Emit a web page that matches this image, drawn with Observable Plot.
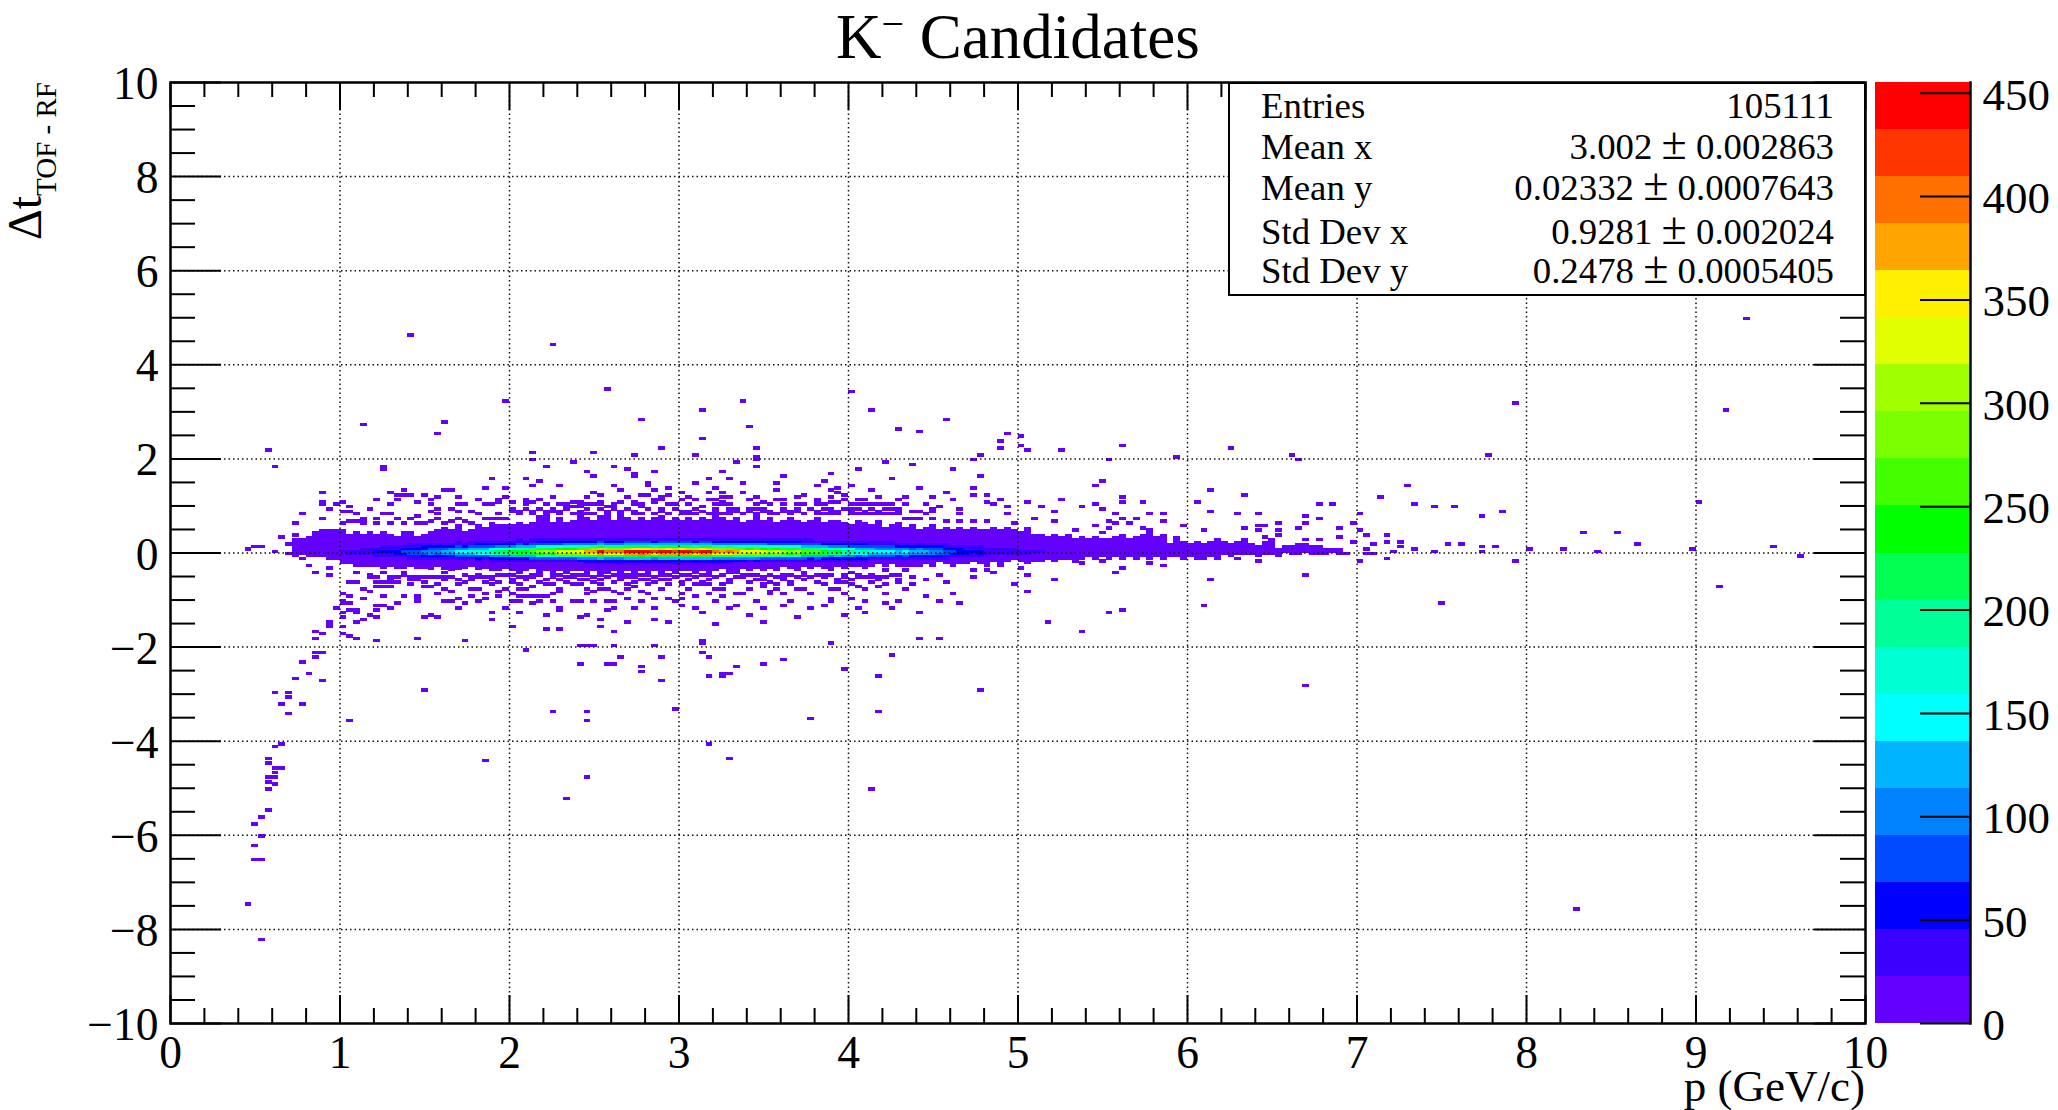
<!DOCTYPE html>
<html>
<head>
<meta charset="utf-8">
<script src="https://cdn.jsdelivr.net/npm/d3@7"></script>
<script src="https://cdn.jsdelivr.net/npm/@observablehq/plot@0.6"></script>
<style>
html,body{margin:0;padding:0;background:#fff;}
#page{position:relative;width:2058px;height:1110px;overflow:hidden;font-family:"Liberation Serif",serif;color:#000;}
#page svg{position:absolute;left:0;top:0;}
#title{position:absolute;left:836px;top:1px;font-size:63px;line-height:72px;white-space:nowrap;}
#title sup{font-size:40px;line-height:0;vertical-align:21px;}
#ylab{position:absolute;left:0;top:82px;width:162px;height:50px;white-space:nowrap;font-size:48px;line-height:50px;text-align:right;transform-origin:0 0;transform:translate(0,162px) rotate(-90deg);}
#ylab span{font-size:29px;position:relative;top:15px;}
#xlab{position:absolute;right:193px;top:1066px;font-size:45px;line-height:40px;white-space:nowrap;}
#stats{position:absolute;left:1228px;top:82px;width:634px;height:210px;background:#fff;border:2.5px solid #000;font-size:36.8px;}
#stats div{position:absolute;left:0;right:0;height:40px;line-height:40px;}
#stats .k{position:absolute;left:31px;}
#stats .v{position:absolute;right:30px;}
#stats .pm{font-size:46px;line-height:0;}
</style>
</head>
<body>
<div id="page"></div>
<script>
// Histogram binning
const pBin = 0.04, dtBin = 0.05;

// Palette levels and band colours
const levels = [22.76,45.52,68.28,91.04,113.8,136.56,159.32,182.08,204.84,227.6,250.36,273.12,295.88,318.64,341.4,364.16,386.92,409.68,432.44];
const zTop = 455.2;
const bandColors = ["#6400ff","#3c00ff","#0000ff","#004bff","#0082ff","#00b4ff","#00ffff","#00ffd2","#00ff96","#00ff50","#00ff00","#44ff00","#7aff00","#a0ff00","#e1ff00","#fff000","#ffa500","#ff7000","#ff3600","#ff0000"];
const zTicks = [0,50,100,150,200,250,300,350,400,450];

// Axis ticks
const xMajor = [0,1,2,3,4,5,6,7,8,9,10];
const xMinor = [0.2,0.4,0.6,0.8,1.2,1.4,1.6,1.8,2.2,2.4,2.6,2.8,3.2,3.4,3.6,3.8,4.2,4.4,4.6,4.8,5.2,5.4,5.6,5.8,6.2,6.4,6.6,6.8,7.2,7.4,7.6,7.8,8.2,8.4,8.6,8.8,9.2,9.4,9.6,9.8];
const yMajor = [-10,-8,-6,-4,-2,0,2,4,6,8,10];
const yMinor = [-9.5,-9,-8.5,-7.5,-7,-6.5,-5.5,-5,-4.5,-3.5,-3,-2.5,-1.5,-1,-0.5,0.5,1,1.5,2.5,3,3.5,4.5,5,5.5,6.5,7,7.5,8.5,9,9.5];
const xGrid = [1,2,3,4,5,6,7,8,9];
const yGrid = [-8,-6,-4,-2,0,2,4,6,8];

// Filled band: upper and lower edge of the solid region, one value per p bin from p = 0.72
const envStart = 0.72;
const envTop = [
.30,.30,.35,.45,.50,.50,.50,.50,.40,.45,
.40,.45,.40,.45,.40,.35,.45,.45,.35,.40,
.45,.50,.55,.50,.60,.45,.50,.60,.55,.65,
.60,.60,.60,.65,.60,.65,.80,.80,.65,.75,
.65,.70,.85,.75,.70,.80,.90,.70,.80,.75,
.70,.75,.70,.75,.80,.70,.75,.70,.75,.70,
.75,.70,.80,.75,.70,.75,.65,.70,.80,.70,
.75,.65,.70,.75,.70,.65,.70,.75,.65,.70,
.70,.65,.60,.70,.65,.60,.70,.55,.60,.65,
.55,.60,.50,.55,.60,.50,.55,.50,.55,.50,
.55,.50,.50,.55,.50,.55,.50,.45,.55,.40,
.40,.35,.40,.35,.40,.30,.35,.30,.35,.30,
.30,.35,.40,.30,.35,.40,.45,.35,.40,.20,
.35,.25,.20,.25,.20,.25,.30,.25,.20,.25,
.30,.20,.15,.25,.30,.10,.15,.15,.20,.20,
.15,.15,.10,.10,.10];
const envBottom = [
-.10,-.05,-.10,-.10,-.10,-.15,-.15,-.20,-.25,-.30,
-.30,-.30,-.30,-.35,-.30,-.35,-.35,-.30,-.35,-.35,
-.35,-.30,-.35,-.40,-.35,-.35,-.30,-.35,-.35,-.40,
-.40,-.35,-.40,-.45,-.40,-.35,-.45,-.40,-.45,-.40,
-.45,-.40,-.40,-.45,-.40,-.50,-.45,-.40,-.45,-.40,
-.50,-.40,-.45,-.40,-.45,-.40,-.45,-.40,-.40,-.45,
-.40,-.45,-.40,-.35,-.40,-.45,-.35,-.40,-.35,-.40,
-.35,-.40,-.30,-.35,-.40,-.30,-.35,-.30,-.35,-.40,
-.30,-.35,-.30,-.30,-.35,-.30,-.25,-.30,-.25,-.30,
-.25,-.30,-.30,-.25,-.30,-.20,-.25,-.30,-.25,-.25,
-.20,-.25,-.25,-.20,-.25,-.20,-.15,-.20,-.25,-.20,
-.20,-.15,-.20,-.15,-.15,-.20,-.15,-.10,-.15,-.10,
-.15,-.10,-.15,-.10,-.15,-.10,-.15,-.10,-.15,-.10,
-.10,-.15,-.10,-.10,-.15,-.10,-.10,-.05,-.10,-.05,
-.05,-.05,-.10,-.05,-.05,-.10,0,-.05,-.05,0,
0,-.05,-.05,0,-.05];

// Core: counts per p bin from p = 1.00, one array per dt row (named by lower edge of row)
const coreStart = 1.00;
const row_000 = [25,28,30,40,38,46,50,52,58,72,
90,85,95,110,100,125,135,150,140,160,
175,165,190,205,225,235,250,240,265,285,
305,295,325,340,330,350,375,385,435,395,
390,405,440,450,455,445,420,435,450,430,
445,440,425,445,438,395,380,390,365,355,
345,360,330,315,325,300,290,305,270,255,
265,240,225,230,200,190,180,185,160,150,
155,145,135,140,125,130,115,110,100,85,
70,65,55,50,55,42,40,38,35,33,
30,28,26,24,22,20,18,16,15];
const row_m005 = [21,24,26,33,32,40,44,45,52,60,
75,72,80,92,88,105,112,128,118,135,
150,140,160,178,190,200,212,205,225,240,
255,250,280,290,282,300,318,330,365,340,
335,345,375,385,390,378,360,370,382,365,
380,372,360,378,372,335,325,330,310,302,
295,305,280,268,275,255,248,258,230,218,
225,205,192,196,170,162,155,158,136,128,
132,124,116,120,106,110,98,94,85,72,
60,55,47,43,47,36,34,32,30,28,
26,24,22,20,19,17,15,14,13];
const row_p005 = [18,20,22,29,27,33,36,38,42,52,
65,61,68,79,72,90,97,108,101,115,
126,119,137,148,162,170,180,173,191,205,
220,212,234,245,238,252,270,277,300,285,
281,292,317,324,328,320,302,313,324,310,
320,317,306,320,315,285,274,281,263,256,
248,259,238,227,234,216,209,220,194,184,
191,173,162,166,144,137,130,133,115,108,
112,104,97,101,90,94,83,79,72,61,
50,47,40,36,40,30,29,27,25,24];
const row_m010 = [13,14,15,20,19,23,25,26,29,36,
45,42,48,55,50,62,68,75,70,80,
88,82,95,102,112,118,125,120,132,142,
152,148,162,170,165,175,188,192,218,198,
195,202,220,225,228,222,210,218,225,215,
222,220,212,222,219,198,190,195,182,178,
172,180,165,158,162,150,145,152,135,128,
132,120,112,115,100,95,90,92,80,75,
78,72,68,70,62,65,58,55,50,42,
35,32,28,25,28];
const row_p010 = [12,13,14,19,18,22,24,25,28,35,
43,41,46,53,48,60,65,72,67,77,
84,79,91,98,108,113,120,115,127,137,
146,142,156,163,158,168,180,185,209,190,
187,194,211,216,218,214,202,209,216,206,
214,211,204,214,210,190,182,187,175,170,
166,173,158,151,156,144,139,146,130,122,
127,115,108,110,96,91,86,89,77,72,
74,70,65,67,60,62,55,53,48,41,
34,31,26,24,26];
const row_p015 = [8,9,9,12,12,14,15,16,17,21,
26,24,27,31,28,35,38,42,39,45,
49,46,53,57,63,66,70,67,74,80,
85,83,91,95,92,98,105,108,122,111,
109,113,123,126,128,125,118,122,126,120,
125,123,119,125,123,111,106,109,102,99,
97,101,92,88,91,84,81,85,76,71,
74,67,63,64,56,53,50,52,45,42,
43,41,38,39,35,36,32,31,28,24];
const row_m015 = [8,8,9,11,11,13,14,15,16,20,
25,24,26,30,27,33,36,40,38,43,
47,44,50,54,60,63,67,64,70,76,
82,79,87,90,88,93,100,103,116,106,
105,108,118,120,122,119,113,117,120,115,
120,118,114,120,118,106,102,105,98,95,
93,96,88,84,86,80,77,81,72,68,
71,64,60,62,54,51,48,50,43,40,
42,39,36,38,33,35,31,30,27,23];
const row_p020 = [5,5,5,7,7,8,8,9,10,12,
15,14,15,18,16,20,22,24,22,26,
28,26,30,33,36,38,40,38,42,46,
49,47,52,54,53,56,60,62,70,63,
62,65,70,72,73,71,67,70,72,69,
71,70,68,71,70,63,61,62,58,57,
55,58,53,50,52,48,46,48,43,41,
42,38,36,37,32,30,29,30,26,24,
25,23];
const row_m020 = [4,4,4,5,5,6,7,7,8,9,
12,11,12,14,13,16,18,20,18,21,
23,21,25,27,29,31,33,31,34,37,
40,38,42,44,43,46,49,50,57,51,
51,53,57,59,59,58,55,57,59,56,
58,57,55,58,57,51,49,51,47,46,
45,47,43,41,42,39,38,39,35,33,
34,31,29,30,26,25,23,24];
const row_p025 = [3,3,3,4,4,4,5,5,5,7,
8,8,9,10,9,11,12,14,13,14,
16,15,17,18,20,21,23,22,24,26,
27,27,29,31,30,32,34,35,39,36,
35,36,40,41,41,40,38,39,41,39,
40,40,38,40,39,36,34,35,33,32,
31,32,30,28,29,27,26,27,24,23];
const row_m025 = [2,2,2,2,2,3,3,3,3,4,
5,5,6,7,6,8,8,9,8,10,
11,10,11,12,14,14,15,14,16,17,
18,18,19,20,20,21,23,23,26,24,
23,24,26,27,27,27,25,26,27,26,
27,26,26,27,26,24,23,23];
const coreRowEdges = [0,-0.05,0.05,-0.10,0.10,0.15,-0.15,0.20,-0.20,0.25,-0.25];
const coreRows = [row_000,row_m005,row_p005,row_m010,row_p010,row_p015,row_m015,row_p020,row_m020,row_p025,row_m025];

// Isolated low-count bins: [p, dt]
const hitsHigh = [
[9.3,4.93],[7.94,3.14],[9.18,2.98],[1.42,4.59],[2.26,4.39],[2.58,3.43],[1.98,3.2],[4.02,3.39],[3.14,3.02],[3.38,3.2],[4.14,3.02],
[2.78,2.82],[4.58,2.78],[1.14,2.69],[1.62,2.74],[3.42,2.63],[1.58,2.48],[4.30,2.58],[4.42,2.54],[3.14,2.38],[4.94,2.48],[5.02,2.43],
[4.90,2.34],[5.02,2.23],[4.9,2.19],[5.06,2.14],[.58,2.14],[2.90,2.19],[3.46,2.19],[2.14,2.09],[2.5,2.09],[2.74,2.03],[3.1,2.03],
[3.46,2.0],[3.46,1.95],[4.78,2.03],[4.74,1.94],[2.14,1.94],[2.38,1.89],[3.34,1.89],[4.22,1.89],[4.38,1.83],[1.26,1.82],[1.26,1.77],
[.62,1.79],[2.22,1.79],[2.62,1.79],[3.44,1.79],[4.06,1.75],[4.62,1.75],[2.7,1.75],[2.46,1.69],[2.86,1.69],[3.26,1.69],[2.74,1.63],[2.74,1.58],
[2.5,1.58],[3.62,1.58],[3.9,1.63],[4.78,1.58],[3.86,1.49],[1.9,1.53],[2.1,1.53],[2.18,1.49],[3.18,1.53],[3.3,1.53],[4.26,1.53],
[5.26,2.14],[5.63,2.23],[5.54,1.94],[5.94,1.99],[6.26,2.19],[6.62,2.03],[6.66,1.94],[7.78,2.03],[5.5,1.49],[5.46,1.38],[6.14,1.29],[6.34,1.18],[7.3,1.38],[9.03,1.03],
[7.34,.98],[7.58,.94],[8.29,-7.6],[9.12,-.77],[7.86,.85],[8.33,.38],[8.54,.38],[8.64,.15],[7.45,.93],[7.56,.93],[7.75,.74],[7.15,1.15],[7,.8],[7.51,-1.1],[6.69,-2.86],[6.69,-.52],
[9.45,.1],[9.62,-.1],[8.97,.04],[8.42,0],[8.21,.04],[8.02,.04],[7.94,-.18],[7.73,0],[7.73,.1],[7.44,0],[7.6,.15],[7.24,.18],[7.05,.04],[7.2,0],[7.34,.04],[7.52,.15],[7.82,.12],[6.95,-.05],[7.1,-.07]];
const hitsUpperMid = [
[3.1,1.43],[3.38,1.43],[3.58,1.43],[2.82,1.43],[2.82,1.38],[2.14,1.38],[2.3,1.38],[2.62,1.38],[3.82,1.38],[4.02,1.38],[2.86,1.31],[1.86,1.33],[1.98,1.33],[2.94,1.33],[3.22,1.33],[3.94,1.33],[4.4,1.33],[4.74,1.33],
[1.38,1.29],[1.62,1.29],[1.66,1.29],[2.66,1.29],[3.58,1.29],[3.9,1.29],[4.14,1.29],[.9,1.24],[1.3,1.24],[2.5,1.24],[3.0,1.24],[3.02,1.24],[3.18,1.24],[3.26,1.24],[3.38,1.24],[3.94,1.24],[4.58,1.24],
[1.34,1.18],[1.38,1.18],[1.42,1.18],[1.5,1.18],[2.54,1.18],[2.78,1.18],[2.82,1.18],[2.94,1.18],[3.74,1.18],[3.98,1.18],[4.74,1.18],[4.82,1.18],
[1.22,1.1],[1.34,1.1],[1.54,1.1],[1.82,1.1],[1.94,1.1],[1.94,1.03],[2.1,1.1],[2.1,1.03],[2.1,.98],[2.18,1.1],[2.86,1.1],[2.9,1.1],[3.02,1.1],[3.1,1.1],[3.18,1.1],[3.22,1.1],[3.26,1.13],[3.26,1.05],[3.26,.98],[3.42,1.1],[3.58,1.1],[3.62,1.1],[3.82,1.1],[3.82,1.03],[3.82,.98],[3.98,1.1],[4.06,1.1],[4.1,1.1],[4.3,1.1],[4.62,1.1],[4.9,1.1],
[.9,1.03],[.9,1.0],[1.02,1.03],[1.46,1.03],[2.02,1.03],[2.14,1.03],[2.38,1.03],[2.42,1.03],[2.54,1.03],[2.66,1.03],[2.74,1.03],[2.86,1.03],[3.5,1.03],[3.9,1.03],[3.94,1.03],[4.82,1.03],[5.06,1.03],
[.98,.98],[1.54,.98],[1.74,.98],[1.86,.98],[2.1,.98],[2.34,.98],[2.42,.98],[2.46,.98],[2.5,.98],[2.54,.98],[2.78,.98],[2.94,.98],[3.46,.98],[3.62,.98],[3.74,.98],[4.06,.98],[4.1,.98],[4.14,.98],[4.22,.98],[4.34,.98],[4.46,.98],[4.86,.98],
[.94,.9],[1.02,.85],[1.06,.93],[1.1,.79],[1.14,.69],[1.18,.9],[1.24,.78],[1.3,.79],[1.46,.74],[1.54,.84],[1.52,.67],[1.58,.9],[1.58,.78],[1.64,.67],[1.66,.9],[1.72,.67],[1.82,.78],[1.92,.8],[1.92,.7],[1.98,.7],[1.88,.7],[2.02,.84],[.78,.78],[.9,.69],[.74,.58],[1.06,.85],[1.04,.64],[1.08,.64],[1.12,.64],
[2.2,.85],[2.26,.85],[2.32,.95],[2.36,.93],[2.4,.93],[2.7,.9],[2.78,.93],[2.88,.85],[3.0,.78],[3.06,.85],[3.06,.72],[3.12,.7],[3.18,.67],[2.98,.92],[3.14,.93],[2.58,.93],[2.62,.93],
[3.22,.8],[3.3,.85],[3.34,.92],[3.38,.82],[3.46,.9],[3.5,.85],[3.56,.8],[3.6,.92],[3.66,.85],[3.7,.9],[3.74,.8],[3.8,.85],[3.86,.92],[3.9,.82],[3.94,.85],[4.0,.9],[4.04,.78],[4.1,.85],[4.14,.8],[4.2,.92],[4.24,.78],[4.28,.88],[4.32,.72],[4.36,.85],[4.4,.7],[4.44,.82],[4.48,.72],
[4.34,.99],[4.46,.99],[4.65,.92],[4.55,.93],[4.94,.93],[5.14,.93],[5.36,.93],[5.46,.99],[5.5,.9],[6.78,.99],[6.86,.99],[4.58,1.24],[4.74,1.19],[4.82,1.19],[4.62,1.1],[4.9,1.1],[4.86,.99],[5.26,1.1],[5.62,1.03],[5.74,1.03],[6.06,1.03],[6.14,1.29],[6.35,1.19],[5.26,1.1],[5.46,.98],[5.63,1.13],[5.63,1.03],[5.14,.94],[5.36,.94]];
const hitsUpperLow = [
[4.48,.85],[4.5,.88],[4.66,.78],[4.94,.78],[5.22,.85],[6.12,.83],[6.3,.78],[6.42,.78],[5.76,.78],[5.86,.78],[5.58,.78],[6.7,.73],[5.1,.71],[5.22,.67],[4.38,.69],[5.62,.69],[5.7,.69],[6.78,.69],
[5.54,.64],[5.86,.64],[4.58,.67],[4.64,.64],[4.72,.64],[4.99,.62],[4.82,.64],[5.58,.59],[5.66,.59],[6.46,.57],[6.42,.55],[6.54,.59],[6.7,.59],[6.99,.59],[5.96,.54],[5.45,.54],[5.53,.5],[5.75,.5],[6.35,.5],[6.66,.5],[6.9,.5],[6.09,.44],[6.42,.44],[6.54,.44],[7.02,.44],[5.34,.44],[5.5,.39],[5.78,.44],[7.06,.34],[7.18,.34],[6.54,.34],[6.46,.3],[6.9,.3],[6.7,.24],[6.78,.24],[6.99,.2],[7.18,.18],[7.08,.14],[7.25,.1],
[.46,.03],[.5,.1],[.54,.1],[.62,-.02],[.66,.3],[.74,.35],[.7,.14],[.7,-.06],[.76,-.15]];
const hitsLowerMid = [
[.82,-.3],[.94,-.34],[1.16,-.32],[.86,-.43],[1.54,-.36],[1.62,-.36],[1.7,-.36],[1.82,-.34],[1.92,-.36],[.93,-.5],[1.1,-.46],[1.18,-.5],[1.18,-.56],[1.23,-.53],[1.26,-.46],[1.3,-.55],[1.34,-.55],[1.38,-.43],[1.38,-.5],[1.42,-.57],[1.42,-.62],[1.42,-.7],[1.46,-.53],[1.52,-.55],[1.58,-.53],[1.62,-.46],[1.66,-.53],[1.7,-.6],[1.7,-.68],[1.82,-.53],[1.88,-.53],[1.94,-.5],
[1.04,-.67],[1.1,-.67],[1.22,-.66],[1.26,-.67],[1.34,-.64],[1.2,-.75],[1.24,-.75],[1.28,-.75],[1.5,-.75],[1.54,-.75],[1.14,-.82],[1.18,-.87],[1.82,-.82],[1.94,-.67],[1.98,-.82],[1.66,-.87],[1.94,-.87],
[1.0,-.92],[1.06,-.94],[1.26,-.94],[1.38,-.94],[1.46,-.94],[1.46,-.98],[1.46,-1.03],[1.78,-.94],[1.94,-.94],[2.02,-.9],[2.04,-.94],[2.08,-.94],[2.12,-.94],[2.16,-.94],[2.2,-.94],
[1.02,-1.03],[1.14,-1.0],[1.86,-1.0],[1.7,-1.0],[1.02,-1.1],[1.06,-1.1],[1.22,-1.14],[1.26,-1.15],[1.34,-1.1],[1.66,-1.07],[1.74,-1.12],[2.06,-1.07],[2.14,-1.12],[2.18,-1.07],
[2.04,-.78],[2.12,-.75],[2.2,-.71],[2.28,-.87],[2.4,-.71],[2.5,-.87],[2.54,-.78],[2.62,-.84],[2.74,-.75],[2.78,-.87],[2.88,-.78],[2.92,-.6],[3.02,-.71],[3.1,-.72],[3.18,-.71],[3.26,-.82],[2.08,-.57],[2.2,-.6],[2.32,-.57],[2.42,-.6],[2.56,-.57],[2.64,-.57],[2.72,-.57],[2.82,-.6],[2.96,-.57],[3.08,-.53],[3.2,-.53],[3.28,-.46],
[2.12,-.5],[2.24,-.5],[2.36,-.5],[2.46,-.52],[2.6,-.5],[2.68,-.5],[2.76,-.52],[2.88,-.5],[3.0,-.5],[3.14,-.5],
[3.36,-.53],[3.48,-.6],[3.56,-.68],[3.3,-.6],[3.32,-.89],[3.6,-.53],[3.72,-.46],[3.78,-.57],[3.88,-.78],[3.94,-.64],[4.04,-.55],[4.12,-.53],[4.18,-.53],[4.2,-.42],[4.06,-.75],[4.18,-.75],[3.7,-.82],[3.5,-.75],[3.52,-.85],[3.62,-.92],[3.24,-.96],[3.42,-.5],[3.66,-.48],[3.84,-.5],[4.0,-.46],
[4.74,-.41],[4.82,-.41],[4.86,-.47],[4.33,-.41],[4.33,-.32],[4.8,-.3],[4.9,-.3],[5.7,-.16],[5.78,-.15],[5.78,-.25],[5.86,-.16],[5.34,-.22],[5.38,-.27],[5.5,-.22],[6.06,-.16],[6.18,-.16],[6.3,-.16],[6.42,-.22],[6.74,-.07],[6.95,-.07],[7.06,-.06],[7.02,-.22],[7.18,-.16],[5.86,-.32],[5.62,-.36],[5.58,-.47],[5.0,-.36],[5.06,-.51],[6.7,-.51],[4.54,-.51],[4.74,-.56],[5.22,-.61],[6.14,-.61],[4.58,-.67],[4.99,-.71],[5.06,-.87],[4.62,-.91],[4.46,-.95]];
const hitsLowerFar = [
[.86,-1.86],[1.1,-1.86],[1.22,-1.92],[1.46,-1.86],[1.74,-1.92],[.85,-2.16],[.89,-2.16],[.864,-2.26],[.78,-2.36],[.82,-2.6],[.74,-2.72],[.9,-2.75],[.62,-3.0],[.70,-3.0],[.70,-3.12],[.66,-3.25],[.78,-3.25],[.70,-3.45],[1.06,-3.61],[1.5,-2.96],
[.66,-4.11],[.62,-4.17],[.58,-4.41],[.58,-4.51],[.62,-4.6],[.66,-4.6],[.62,-4.71],[.58,-4.82],[.62,-4.82],[.58,-4.91],[.62,-4.96],[.58,-5.06],[.58,-5.5],[.54,-5.66],[.5,-5.82],[.54,-6.05],[.5,-6.27],[.5,-6.55],[.54,-6.55],[.46,-7.51],[.54,-8.26],[1.86,-4.45],
[2.45,-4.78],[2.33,-5.26],[4.13,-5.06],[3.18,-4.09],[3.29,-4.42],[3.78,-3.53],[4.17,-3.42],[2.45,-3.42],[2.45,-3.58],[2.25,-3.42],[2.97,-3.33],[4.76,-2.97],[3.18,-2.64],[3.26,-2.64],[3.33,-2.47],[3.49,-2.39],[2.89,-2.75],[2.79,-2.55],[3.63,-2.3],[4.18,-2.66],[3.97,-2.52],[4.26,-2.19],[2.63,-2.39],[2.42,-2.39],[2.44,-2],[2.63,-2],[2.09,-2.11],[3.14,-1.91],[3.12,-2.16],[3.9,-1.94],[4.42,-1.85],[4.54,-1.85],[1.72,-1.91],[5.17,-1.49],[5.38,-1.72],[5.54,-1.3],[5.62,-1.27],[6.1,-1.16],
[1.1,-1.24],[1.1,-1.3],[1.02,-1.28],[1.02,-1.39],[1.16,-1.34],[1.22,-1.26],[1.14,-1.46],[1.22,-1.4],[1.08,-1.5],[.94,-1.5],[.94,-1.56],[.94,-1.6],[1.0,-1.6],[1.5,-1.4],[1.54,-1.35],[1.58,-1.4],[1.9,-1.28],[1.9,-1.47],[2.06,-1.3],[2.22,-1.33],[2.3,-1.26],
[2.02,-1.61],[2.22,-1.67],[2.3,-1.67],[.86,-1.72],[.9,-1.77],[1.02,-1.76],[1.06,-1.81],[1.1,-1.86],[1.06,-1.26],[.98,-1.2],
[2.4,-1.4],[2.54,-1.47],[2.58,-1.26],[2.46,-1.33],[2.42,-1.07],[2.5,-1.07],[2.58,-1.07],[2.7,-1.0],[2.86,-1.2],[2.86,-1.0],[2.94,-1],[3.02,-1],[3.1,-.96],[3.02,-1.15],[2.86,-1.46],[2.94,-1.51],[2.7,-1.51],[3.14,-1.3],[3.22,-1.55],[2.54,-1.61],[2.62,-1.72],[3.14,-1.9],[3.14,-1.96],[2.42,-2],[2.5,-2],[2.62,-2.02],[2.86,-2],[2.1,-2.11],[2.66,-2.26],[2.9,-2.26],[3.18,-2.26],[2.42,-2.4],[2.58,-2.4],[2.78,-2.45],[3.24,-2.6],[3.28,-2.6],
[3.88,-1],[4.02,-1],[3.34,-1.15],[3.62,-1.15],[3.84,-1.15],[3.43,-1.35],[3.99,-1.35],[4.1,-1.32],[3.5,-1.5],[3.7,-1.42],[4.54,-1.07],[4.66,-1.11],[5.62,-1.27],[5.06,-.87],[4.2,-1.12],[4.4,-1.28]];

// Ragged fringe of the band: p positions of occupied bins along single dt rows
const fringeRows = [0.80,0.85,0.90,1.00,1.15,0.60,0.70,-0.50,-0.55,-0.60,-0.65,-0.70,-0.80,-0.90,-1.05,-1.20];
const fringeP = [
[2.04,2.12,2.2,2.28,2.36,2.44,2.48,2.56,2.64,2.72,2.76,2.84,2.92,3.04,3.08,3.16,3.24,3.28,3.36,3.44,3.52,3.56,3.64,3.72,3.8,3.84,3.92,4.0,4.08,4.16,4.2,4.28],
[1.7,1.78,2.06,2.14,2.3,2.4,2.58,2.66,2.74,2.9,3.02,3.12,3.22,3.32,3.42,3.54,3.62,3.7,3.82,3.9,4.02,4.18,4.3,4.42],
[2.0,2.08,2.16,2.24,2.32,2.44,2.52,2.6,2.68,2.8,2.88,2.96,3.08,3.2,3.28,3.4,3.48,3.6,3.68,3.76,3.88,3.96,4.04,4.12,4.24],
[1.3,1.7,1.9,2.2,2.28,2.4,2.6,2.72,2.96,3.04,3.2,3.3,3.54,3.68,3.86,4.0,4.16,4.26],
[1.58,1.7,1.98,2.24,2.44,2.68,2.9,3.06,3.3,3.46,3.7,3.88,4.18,4.34,4.5],
[1.0,1.14,1.2,1.3,1.36,1.44,1.5,1.62,1.76],
[1.12,1.22,1.32,1.42,1.56,1.7,1.84],
[1.74,1.8,1.98,2.02,2.16,2.28,2.4,2.52,2.64,2.72,2.8,2.92,3.04,3.18,3.26,3.38,3.46,3.54,3.62,3.74,3.82,3.9,3.98,4.06,4.14,4.24,4.3],
[1.5,1.62,1.76,1.84,2.04,2.14,2.26,2.38,2.5,2.58,2.7,2.86,2.98,3.1,3.22,3.34,3.5,3.58,3.68,3.76,3.86,3.96,4.1,4.2,4.38],
[1.3,1.46,1.6,1.78,1.9,2.0,2.1,2.3,2.44,2.54,2.66,2.78,2.9,3.06,3.16,3.3,3.44,3.6,3.72,3.92,4.02,4.16,4.28,4.46],
[1.28,1.5,1.74,1.86,2.02,2.18,2.34,2.48,2.6,2.74,2.84,3.0,3.12,3.28,3.4,3.52,3.66,3.8,3.98,4.12,4.3],
[1.56,1.7,1.9,2.06,2.26,2.38,2.52,2.68,2.8,2.94,3.14,3.24,3.48,3.64,3.84,4.0,4.2,4.36],
[1.62,1.76,2.1,2.3,2.46,2.58,2.7,2.9,3.04,3.2,3.42,3.58,3.74,3.92,4.1,4.32],
[1.58,1.84,2.24,2.44,2.66,2.82,3.0,3.16,3.38,3.54,3.76,3.96,4.22],
[1.62,1.8,2.0,2.26,2.36,2.62,2.78,2.98,3.2,3.44,3.66,3.9,4.08,4.3],
[1.3,1.7,1.98,2.28,2.6,2.74,3.08,3.3,3.5,3.76,4.06,4.26]];

// Stats box text
const statsNames = ["Entries","Mean x","Mean y","Std Dev x","Std Dev y"];
const statsValues = ["105111","3.002 ± 0.002863","0.02332 ± 0.0007643","0.9281 ± 0.002024","0.2478 ± 0.0005405"];

// Table built from the named arrays
const edge = v => Math.floor(v / pBin + 1e-6) * pBin;
const edgeY = v => Math.floor(v / dtBin + 0.5) * dtBin;
const solid = envTop.map((t, i) => ({p0: envStart + i * pBin, p1: envStart + (i + 1) * pBin, d0: envBottom[i], d1: t, count: 5}));
const core = coreRows.flatMap((row, r) => row.map((c, i) => ({p0: coreStart + i * pBin, p1: coreStart + (i + 1) * pBin, d0: coreRowEdges[r], d1: coreRowEdges[r] + dtBin, count: c})));
const fringe = fringeRows.flatMap((d, r) => fringeP[r].map(p => [p, d]));
const hits = [...hitsHigh, ...hitsUpperMid, ...hitsUpperLow, ...hitsLowerMid, ...hitsLowerFar, ...fringe].map(([p, d]) => {
  const p0 = edge(p), d0 = edgeY(d);
  return {p0, p1: p0 + pBin, d0, d1: d0 + dtBin, count: 1};
});

const serif = "Liberation Serif";
const cellOpts = {x1: "p0", x2: "p1", y1: "d0", y2: "d1", fill: "count", shapeRendering: "crispEdges"};
const chart = Plot.plot({
  width: 2058, height: 1110,
  marginLeft: 170, marginRight: 193, marginTop: 82, marginBottom: 87,
  x: {domain: [0, 10]},
  y: {domain: [-10, 10]},
  color: {type: "threshold", domain: levels, range: bandColors},
  marks: [
    Plot.rect(hits, {...cellOpts, insetTop: -0.6, insetBottom: -0.6}),
    Plot.rect(solid, cellOpts),
    Plot.rect(core, cellOpts),
    Plot.ruleX(xGrid, {stroke: "#111", strokeWidth: 1.5, strokeDasharray: "1.5,3"}),
    Plot.ruleY(yGrid, {stroke: "#111", strokeWidth: 1.5, strokeDasharray: "1.5,3"}),
    Plot.ruleX(xMajor, {insetTop: 913, stroke: "#000", strokeWidth: 2}),
    Plot.ruleX(xMajor, {insetBottom: 913, stroke: "#000", strokeWidth: 2}),
    Plot.ruleX(xMinor, {insetTop: 926, stroke: "#000", strokeWidth: 2}),
    Plot.ruleX(xMinor, {insetBottom: 926, stroke: "#000", strokeWidth: 2}),
    Plot.ruleY(yMajor, {insetRight: 1644, stroke: "#000", strokeWidth: 2}),
    Plot.ruleY(yMajor, {insetLeft: 1644, stroke: "#000", strokeWidth: 2}),
    Plot.ruleY(yMinor, {insetRight: 1670, stroke: "#000", strokeWidth: 2}),
    Plot.ruleY(yMinor, {insetLeft: 1670, stroke: "#000", strokeWidth: 2}),
    Plot.frame({stroke: "#000", strokeWidth: 2.5}),
    Plot.axisX({ticks: xMajor, anchor: "bottom", label: null, tickSize: 0, tickPadding: 12, fontSize: 45.5, fontFamily: serif, fill: "#000"}),
    Plot.axisY({ticks: yMajor, anchor: "left", label: null, tickSize: 0, tickPadding: 12, dy: 2, fontSize: 45.5, fontFamily: serif, fill: "#000"})
  ]
});

// Colour bar, drawn from the same palette levels
const bandLow = [0, ...levels];
const bandHigh = [...levels, zTop];
const bands = bandColors.map((c, i) => ({lo: bandLow[i], hi: bandHigh[i], c}));
const bar = Plot.plot({
  width: 183, height: 1110,
  marginLeft: 0, marginRight: 88, marginTop: 82, marginBottom: 87,
  x: {axis: null},
  y: {domain: [0, zTop]},
  color: {type: "identity"},
  marks: [
    Plot.rect(bands, {y1: "lo", y2: "hi", fill: "c", shapeRendering: "crispEdges"}),
    Plot.ruleY(zTicks, {insetLeft: 45, stroke: "#000", strokeWidth: 2}),
    Plot.frame({anchor: "right", stroke: "#000", strokeWidth: 2.5}),
    Plot.axisY({ticks: zTicks, anchor: "right", label: null, tickSize: 0, tickPadding: 12, dy: 2, fontSize: 45, fontFamily: serif, fill: "#000"})
  ]
});
bar.style.left = "1875px";

const page = document.getElementById("page");
page.append(chart, bar);

const statsTops = [2, 43, 84, 128, 167];
const stats = document.createElement("div");
stats.id = "stats";
statsNames.forEach((k, i) => {
  const row = document.createElement("div");
  row.style.top = statsTops[i] + "px";
  const v = statsValues[i].replace("±", '<span class="pm">±</span>');
  row.innerHTML = `<span class="k">${k}</span><span class="v">${v}</span>`;
  stats.append(row);
});
page.append(stats);

const title = document.createElement("div");
title.id = "title";
title.innerHTML = "K<sup>−</sup> Candidates";
page.append(title);

const ylab = document.createElement("div");
ylab.id = "ylab";
ylab.innerHTML = "Δt<span>TOF - RF</span>";
page.append(ylab);

const xlab = document.createElement("div");
xlab.id = "xlab";
xlab.textContent = "p (GeV/c)";
page.append(xlab);
</script>
</body>
</html>
